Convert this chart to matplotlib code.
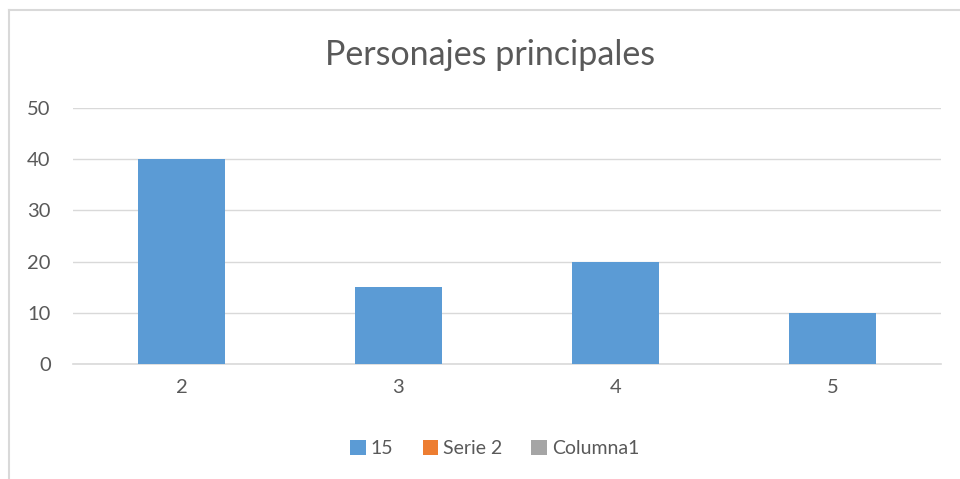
import numpy as np
import matplotlib.pyplot as plt
from matplotlib.lines import Line2D

# Datos
categorias = ['2', '3', '4', '5']
serie_15 = [40, 15, 20, 10]
serie_2 = [np.nan, np.nan, np.nan, np.nan]
columna1 = [np.nan, np.nan, np.nan, np.nan]

plt.rcParams['font.family'] = ['Lato', 'DejaVu Sans']
texto = '#595959'
rejilla = '#d9d9d9'

fig = plt.figure(figsize=(9.6, 4.79), dpi=100)
ax = fig.add_axes([0.076, 0.240, 0.904, 0.5345])

x = np.arange(len(categorias))
ax.bar(x, serie_15, width=0.4, color='#5B9BD5', label='15', zorder=3)
ax.bar(x, serie_2, width=0.4, color='#ED7D31', label='Serie 2', zorder=3)
ax.bar(x, columna1, width=0.4, color='#A5A5A5', label='Columna1', zorder=3)

ax.set_xlim(-0.5, len(categorias) - 0.5)
ax.set_ylim(0, 50)
ax.set_yticks(range(0, 51, 10))
ax.set_xticks(x)
ax.set_xticklabels(categorias)
ax.yaxis.grid(True, color=rejilla, linewidth=1, zorder=0)
for s in ['top', 'right', 'left']:
    ax.spines[s].set_visible(False)
ax.spines['bottom'].set_color(rejilla)
ax.spines['bottom'].set_linewidth(1.2)
ax.tick_params(length=0, labelsize=14.5, colors=texto)
ax.tick_params(axis='x', pad=11)
ax.tick_params(axis='y', pad=16)

fig.text(0.511, 0.886, 'Personajes principales', ha='center', va='center',
         fontsize=24.5, color=texto)

ax.legend(loc='center', bbox_to_anchor=(0.486, -0.33), ncol=3, frameon=False,
          fontsize=14, labelcolor=texto, handlelength=0.8, handleheight=0.8,
          handletextpad=0.25, columnspacing=1.5)

# borde del gráfico
fig.add_artist(Line2D([9 / 960, 9 / 960], [0, 1 - 10 / 479], color=rejilla, lw=1.5))
fig.add_artist(Line2D([9 / 960, 1], [1 - 10 / 479, 1 - 10 / 479], color=rejilla, lw=1.5))

fig.savefig('out.png', dpi=100)
